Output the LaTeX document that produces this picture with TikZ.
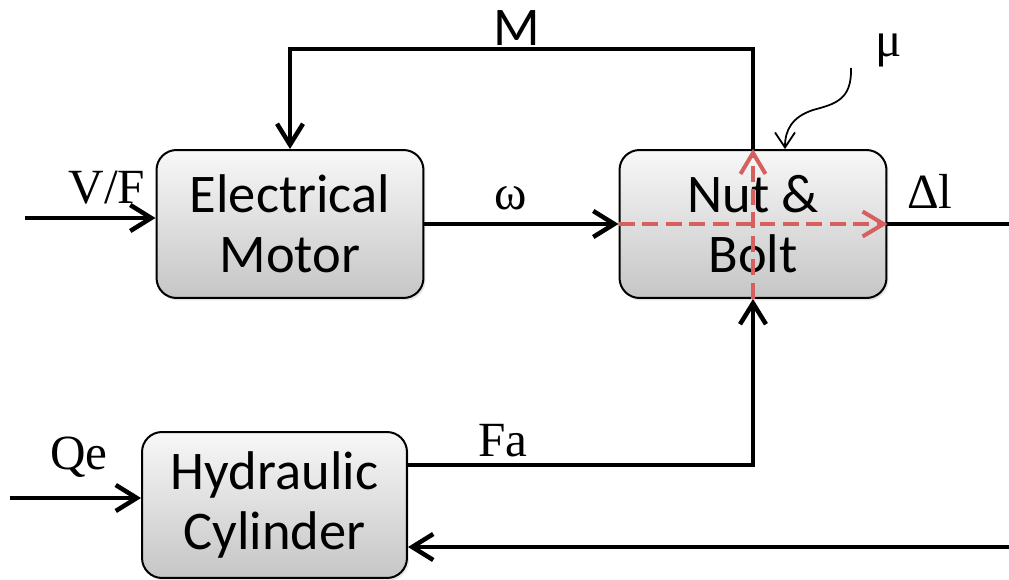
\documentclass[tikz,border=0pt]{standalone}
\usepackage{fontspec}
\setmainfont{Liberation Serif}
\newfontfamily\cajafont{Carlito}
\usetikzlibrary{arrows.meta, shadows}

\definecolor{rojizo}{RGB}{214,96,96}

\tikzset{
  bloque/.style={draw=black, line width=0.04cm, rounded corners=0.4cm,
    top color=gray!6, bottom color=gray!45, minimum width=5.34cm,
    minimum height=2.96cm, align=center, inner sep=0pt,
    drop shadow={opacity=0.2, shadow xshift=0.04cm, shadow yshift=-0.05cm},
    font=\cajafont\fontsize{31}{34}\selectfont},
  senal/.style={line width=0.09cm, -{Straight Barb[length=0.42cm,width=0.52cm]}},
  linea/.style={line width=0.09cm},
  rojo/.style={draw=rojizo, line width=0.08cm, dash pattern=on 0.32cm off 0.15cm,
    -{Straight Barb[length=0.42cm,width=0.5cm]}},
  etiqueta/.style={font=\fontsize{28}{30}\selectfont, inner sep=0pt}
}

\begin{document}
\begin{tikzpicture}[x=0.02cm, y=-0.02cm]
  \useasboundingbox (0,0) rectangle (1009,580);

  % Bloques
  \node[bloque] (motor) at (290,224) {Electrical\\Motor};
  \node[bloque] (tuerca) at (753,224) {Nut \&\\Bolt};
  \node[bloque, minimum width=5.3cm, minimum height=2.92cm] (cilindro) at (274.5,505) {Hydraulic\\Cylinder};

  % Entradas
  \coordinate (vf) at (25,218);
  \draw[senal] (vf) -- (vf -| motor.west);
  \node[etiqueta] (lvf) at (107,188) {V/F};
  \coordinate (qe) at (10,498);
  \draw[senal] (qe) -- (qe -| cilindro.west);
  \node[etiqueta] (lqe) at (79,457) {Qe};

  % Motor -> tuerca
  \draw[senal] (motor.east) -- (tuerca.west);
  \node[etiqueta] (lw) at (511,198) {ω};

  % Realimentacion del par
  \draw[senal] (tuerca.north) -- ++(0,-100) -| (motor.north);
  \node[font=\cajafont\fontsize{31}{34}\selectfont, inner sep=0pt] (lm) at (517,28) {M};

  % Fuerza del cilindro
  \draw[senal] ([yshift=0.8cm]cilindro.east) -| (tuerca.south);
  \node[etiqueta] (lfa) at (503,441) {Fa};

  % Salida y retorno
  \coordinate (dl) at (1009,224);
  \draw[linea] (tuerca.east) -- (dl);
  \node[etiqueta] (ldl) at (930,191) {Δl};
  \coordinate (ret) at (1009,547);
  \draw[senal] (ret) -- (ret -| cilindro.east);

  % Flechas rojas
  \draw[rojo] (tuerca.west) -- (tuerca.east);
  \draw[rojo] (tuerca.south) -- (tuerca.north);

  % Friccion
  \node[etiqueta] (lmu) at (889,50) {μ};
  \coordinate (cola) at (851,68);
  \draw[line width=0.035cm, -{Straight Barb[length=0.3cm,width=0.4cm]}] (cola)
    .. controls (852,100) and (835,104) .. (813,110)
    .. controls (792,117) and (785,130) .. ([xshift=0.64cm]tuerca.north);
\end{tikzpicture}
\end{document}
